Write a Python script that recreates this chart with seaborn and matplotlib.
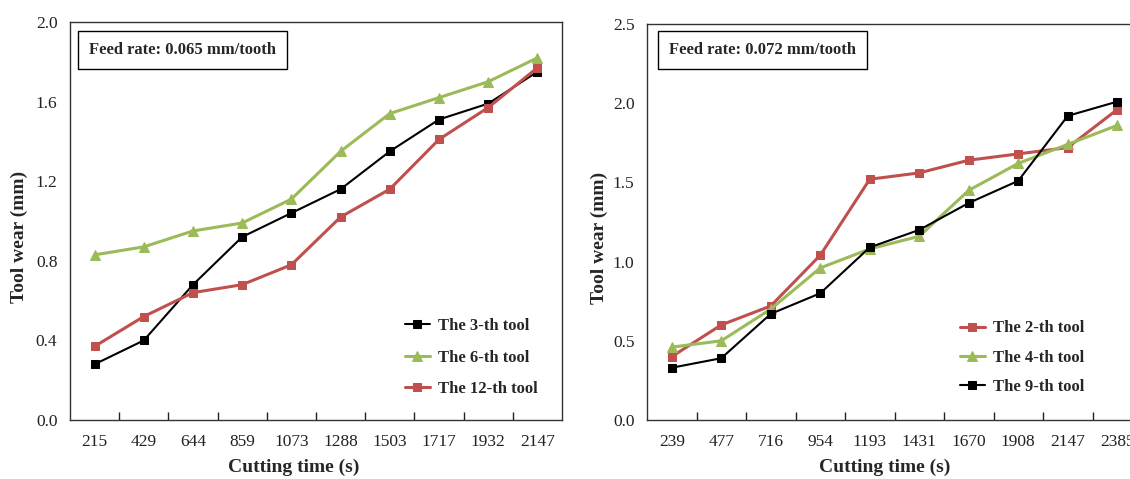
import numpy as np
import pandas as pd
import matplotlib
matplotlib.use("Agg")
import matplotlib.pyplot as plt
import seaborn as sns

# ---- data ----
time_a = ["215", "429", "644", "859", "1073", "1288", "1503", "1717", "1932", "2147"]
tool3 = [0.28, 0.40, 0.68, 0.92, 1.04, 1.16, 1.35, 1.51, 1.59, 1.75]
tool6 = [0.83, 0.87, 0.95, 0.99, 1.11, 1.35, 1.54, 1.62, 1.70, 1.82]
tool12 = [0.37, 0.52, 0.64, 0.68, 0.78, 1.02, 1.16, 1.41, 1.57, 1.77]

time_b = ["239", "477", "716", "954", "1193", "1431", "1670", "1908", "2147", "2385"]
tool2 = [0.40, 0.60, 0.72, 1.04, 1.52, 1.56, 1.64, 1.68, 1.72, 1.96]
tool4 = [0.46, 0.50, 0.70, 0.96, 1.08, 1.16, 1.45, 1.62, 1.74, 1.86]
tool9 = [0.33, 0.39, 0.67, 0.80, 1.09, 1.20, 1.37, 1.51, 1.92, 2.01]

yticks_a = [0.0, 0.4, 0.8, 1.2, 1.6, 2.0]
yticks_b = [0.0, 0.5, 1.0, 1.5, 2.0, 2.5]

sns.set_theme(style="white")
plt.rcParams["font.family"] = ["Liberation Serif", "DejaVu Serif"]

RED = "#C0504D"
GREEN = "#9BBB59"
BLACK = "#000000"

fig = plt.figure(figsize=(11.3, 4.79), dpi=100)
axA = fig.add_axes([70 / 1130, 59 / 479, 492 / 1130, 398 / 479])
axB = fig.add_axes([647 / 1130, 59 / 479, 495 / 1130, 396 / 479])


def draw(ax, x, series, ylim, yticks, box_text, leg_x, leg_sp, label_x, ylab_x):
    for label, vals, color, marker, lw, ms in series:
        sns.lineplot(x=x, y=vals, ax=ax, color=color, marker=marker, lw=lw,
                     markersize=ms, markeredgecolor=color, label=label, sort=False)
    n = len(x)
    ax.set_xlim(-0.5, n - 0.5)
    ax.set_ylim(*ylim)
    ax.set_yticks(yticks)
    ax.set_yticklabels([f"{t:.1f}" for t in yticks])
    ax.set_xticks(range(n))
    ax.set_xticklabels(x)
    ax.set_xticks(np.arange(0.5, n - 1, 1.0), minor=True)
    ax.tick_params(axis="x", which="major", length=0, pad=10, labelsize=12.5, colors="#222222")
    ax.tick_params(axis="x", which="minor", length=6, width=1, direction="in", bottom=True, color="#222222")
    ax.tick_params(axis="y", length=0, pad=9, labelsize=12.5, colors="#222222")
    for sp in ax.spines.values():
        sp.set_visible(True)
        sp.set_color("#333333")
        sp.set_linewidth(1.0)
    ax.grid(False)
    ax.set_xlabel("Cutting time (s)", fontsize=14, fontweight="bold")
    ax.set_ylabel("Tool wear (mm)", fontsize=14, fontweight="bold")
    ax.xaxis.set_label_coords(label_x, -0.098)
    ax.yaxis.set_label_coords(ylab_x, 0.46)
    ax.text(box_text[1], box_text[2], box_text[0], transform=ax.transAxes,
            fontsize=12, fontweight="bold", va="center", ha="left",
            bbox=dict(boxstyle="square,pad=0.65", fc="white", ec="black", lw=1.0))
    leg = ax.legend(loc="center left", bbox_to_anchor=(leg_x, 0.157), frameon=False,
                    prop={"size": 12, "weight": "bold"}, handlelength=1.5,
                    handletextpad=0.5, labelspacing=leg_sp, borderpad=0, borderaxespad=0)
    return leg


draw(axA, time_a,
     [("The 3-th tool", tool3, BLACK, "s", 1.5, 6),
      ("The 6-th tool", tool6, GREEN, "^", 2.2, 6.5),
      ("The 12-th tool", tool12, RED, "s", 2.2, 6)],
     (0, 2.0), yticks_a, ("Feed rate: 0.065 mm/tooth", 0.0386, 0.93), 0.68, 0.92, 0.455, -0.085)

draw(axB, time_b,
     [("The 2-th tool", tool2, RED, "s", 2.2, 6),
      ("The 4-th tool", tool4, GREEN, "^", 2.2, 6.5),
      ("The 9-th tool", tool9, BLACK, "s", 1.5, 6)],
     (0, 2.5), yticks_b, ("Feed rate: 0.072 mm/tooth", 0.044, 0.934), 0.632, 0.8, 0.481, -0.079)

fig.savefig("out.png", dpi=100)
